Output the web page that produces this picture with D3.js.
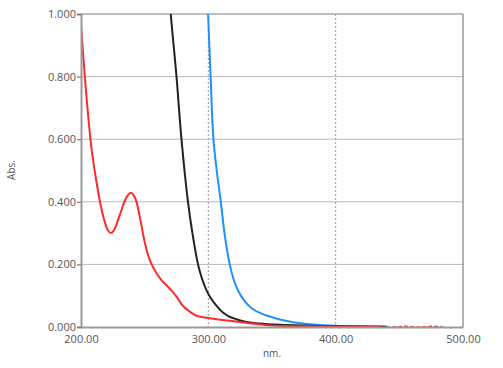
<!DOCTYPE html>
<html><head><meta charset="utf-8">
<script src="https://cdn.jsdelivr.net/npm/d3@7"></script>
<style>body{margin:0;background:#fff}svg{display:block}</style>
</head><body><svg id="c" width="503" height="368"></svg>
<script>
const xTicks = [200, 300, 400, 500];
const yTicks = [0, 0.2, 0.4, 0.6, 0.8, 1.0];
const vGrid = [300, 400];
const redSeries = [[200,0.965],[203,0.8],[205.5,0.68],[208.4,0.565],[211.5,0.48],[214.9,0.4],[218,0.345],[221,0.31],[223.3,0.300],[226,0.31],[230.6,0.36],[235.8,0.415],[239.2,0.429],[242.5,0.412],[246,0.355],[250.2,0.268],[254,0.214],[259.3,0.172],[263.2,0.150],[267,0.134],[271,0.117],[275,0.097],[280,0.068],[285,0.05],[290.7,0.036],[301,0.028],[316.8,0.02],[332.4,0.012],[345,0.006],[360,0.003],[380,0.002],[400,0.001],[435,0.001]];
const redTail = [[435,0.001],[445,0.0],[455,0.002],[465,0.0],[475,0.002],[484,0.001]];
const blackSeries = [[268,1.15],[270.5,1.0],[275,0.8],[278.9,0.6],[284,0.4],[287.5,0.3],[291.9,0.2],[295,0.155],[298.5,0.118],[302,0.092],[306,0.07],[311.5,0.046],[316,0.034],[322,0.025],[330,0.016],[340,0.011],[356,0.007],[380,0.004],[400,0.002],[440,0.001]];
const blueSeries = [[298.5,1.15],[299.8,1.0],[301.8,0.8],[304,0.6],[306.6,0.5],[309.8,0.4],[313,0.29],[316.8,0.2],[320,0.15],[323.5,0.115],[329,0.08],[334,0.06],[340,0.046],[347,0.035],[353.4,0.027],[366.4,0.015],[382,0.008],[400,0.004],[420,0.002],[440,0.001]];

const svg = d3.select('#c');
const L = 81, R = 463, T = 14, B = 327;
const x = d3.scaleLinear().domain([200, 500]).range([L, R]);
const y = d3.scaleLinear().domain([0, 1]).range([B, T]);
const font = "'Open Sans', 'Noto Sans', sans-serif";

svg.append('defs').append('clipPath').attr('id','clip').append('rect')
  .attr('x', L).attr('y', T).attr('width', R - L).attr('height', B - T);

svg.append('g').selectAll('line').data(yTicks.filter(d => d > 0 && d < 1)).join('line')
  .attr('x1', L).attr('x2', R).attr('y1', d => y(d)).attr('y2', d => y(d))
  .attr('stroke', '#b8b8b8').attr('stroke-width', 1);
svg.append('g').selectAll('line').data(vGrid).join('line')
  .attr('x1', d => x(d)).attr('x2', d => x(d)).attr('y1', T).attr('y2', B)
  .attr('stroke', '#999').attr('stroke-width', 1).attr('stroke-dasharray', '2,2');

svg.append('line').attr('x1', L).attr('x2', R).attr('y1', T).attr('y2', T).attr('stroke', '#aaa').attr('stroke-width', 1.5);
svg.append('line').attr('x1', R).attr('x2', R).attr('y1', T).attr('y2', B).attr('stroke', '#999').attr('stroke-width', 1.5);

const line = d3.line().x(d => x(d[0])).y(d => y(Math.max(0, d[1]))).curve(d3.curveCatmullRom.alpha(0.5));
const g = svg.append('g').attr('clip-path', 'url(#clip)');
g.append('path').datum(redTail).attr('d', line).attr('fill','none').attr('stroke','#ff2a2a').attr('stroke-width',1.6).attr('stroke-dasharray','4,2');
g.append('path').datum(blueSeries).attr('d', line).attr('fill','none').attr('stroke','#1e90ff').attr('stroke-width',2);
g.append('path').datum(blackSeries).attr('d', line).attr('fill','none').attr('stroke','#222').attr('stroke-width',2);
g.append('path').datum(redSeries).attr('d', line).attr('fill','none').attr('stroke','#ff2a2a').attr('stroke-width',2);

const yAxis = svg.append('g').attr('transform', `translate(${L},0)`)
  .call(d3.axisLeft(y).tickValues(yTicks).tickFormat(d3.format('.3f')).tickSize(4).tickPadding(1));
yAxis.select('.domain').attr('stroke', '#999').attr('stroke-width', 2);
yAxis.selectAll('.tick line').attr('stroke', '#777').attr('stroke-width', 1.2);
yAxis.selectAll('text').attr('font-family', font).attr('font-size', 11).attr('fill', '#555');

const xAxis = svg.append('g').attr('transform', `translate(0,${B})`)
  .call(d3.axisBottom(x).tickValues(xTicks).tickFormat(d3.format('.2f')).tickSize(0).tickPadding(8));
xAxis.select('.domain').attr('stroke', '#999').attr('stroke-width', 2);
xAxis.selectAll('text').attr('font-family', font).attr('font-size', 11).attr('fill', '#555');

svg.append('text').attr('x', 272).attr('y', 357).attr('text-anchor','middle')
  .attr('font-family', font).attr('font-size', 10).attr('fill', '#555').text('nm.');
svg.append('text').attr('transform', 'translate(15,170) rotate(-90)').attr('text-anchor','middle')
  .attr('font-family', font).attr('font-size', 10).attr('fill', '#555').text('Abs.');
</script></body></html>
